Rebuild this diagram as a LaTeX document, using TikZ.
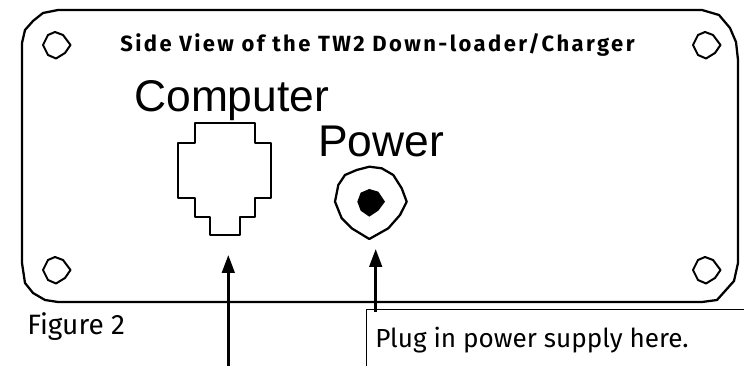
\documentclass[tikz,border=0pt]{standalone}
\usepackage{fontspec}
\usetikzlibrary{arrows.meta}
\setmainfont{Fira Sans}
\newfontfamily\labelfont{Liberation Sans}
\newfontfamily\titlefont[LetterSpace=11]{Fira Sans Bold}
\tikzset{
  ink/.style={line width=1.7pt,line join=round,draw=black},
  arrowline/.style={line width=2pt,draw=black,-{Triangle[length=13.5pt,width=9.5pt]}},
  hole/.pic={\draw[line width=1.5pt,line join=round] (-14,0)--(-9,-10)--(-2,-13)--(6,-10)--(13.5,0)--(8,8)--(-1,13.5)--(-9,10)--cycle;},
  bighead/.style={font=\labelfont\fontsize{33.3}{35}\selectfont,inner sep=0pt,anchor=base west},
  hand/.style={inner sep=0pt,anchor=base west},
}
\begin{document}
\begin{tikzpicture}[x=0.75pt,y=-0.75pt]
\useasboundingbox (0,0) rectangle (744,366);
\fill[white] (0,0) rectangle (744,366);
\draw[ink] (58,10)--(702,10)--(719,15)--(730,28)--(736,42)--(738,60)--(738,263)--(734,281)--(717,300)--(702,302)--(58,302)--(45,300)--(33,293)--(25,283)--(22,263)--(22,43)--(25,30)--(33,21)--(43,13)--cycle;
\pic at (57,45) {hole};
\pic at (707,45) {hole};
\pic at (57,270) {hole};
\pic at (707,270) {hole};
\node[hand,font=\titlefont\fontsize{16.5}{18}\selectfont] (title) at (120,52) {Side View of the TW2 Down-loader/Charger};
\node[bighead] (computer) at (134,112) {Computer};
\node[bighead] (power) at (318,157) {Power};
\draw[ink] (195,123)--(255,123)--(255,143)--(271,143)--(271,198)--(255,198)--(255,217)--(240,217)--(240,235)--(210,235)--(210,217)--(195,217)--(195,198)--(178,198)--(178,143)--(195,143)--cycle;
\draw[ink] (369.3,166.7)--(381.7,168.3)--(393.3,175)--(401.7,188.3)--(406.7,201.7)--(400,215)--(388.3,228.3)--(369.3,239)--(351.7,228.3)--(341.7,218.3)--(335,201.7)--(338.3,185)--(345,175)--(356.7,170)--cycle;
\fill (369.3,189)--(378.3,191.7)--(385,201.7)--(378.3,210.7)--(369.3,216.7)--(360.7,210.7)--(357.3,201.7)--(360.7,192.7)--cycle;
\node[hand,font=\fontsize{21}{23}\selectfont] (fig) at (27,335) {Figure 2};
\coordinate (a1) at (228.3,366);
\coordinate (a1t) at (228.3,255);
\draw[arrowline] (a1)--(a1t);
\coordinate (a2) at (375.7,312);
\coordinate (a2t) at (375.7,249);
\draw[arrowline] (a2)--(a2t);
\draw[line width=0.75pt] (366.7,367)--(366.7,310)--(745,310);
\node[hand,font=\fontsize{19.6}{21}\selectfont] (plug) at (375,348) {Plug in power supply here.};
\end{tikzpicture}
\end{document}
